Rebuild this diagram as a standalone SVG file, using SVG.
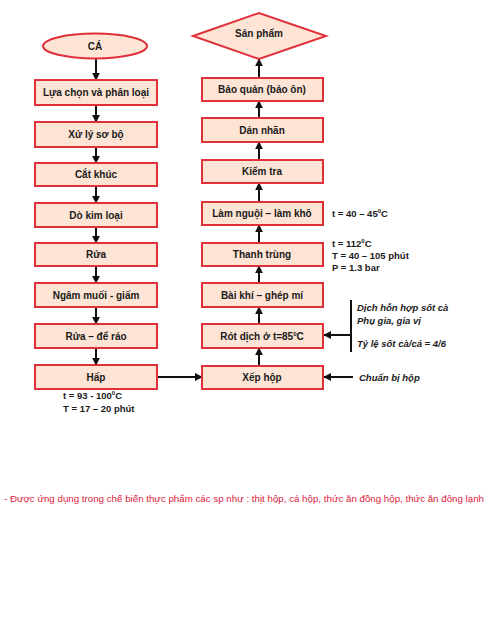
<svg xmlns="http://www.w3.org/2000/svg" width="495" height="640" viewBox="0 0 495 640">
<defs>
<style>
.box{fill:#fde4d4;stroke:#e0303a;stroke-width:2}
.lbl{font-family:"Liberation Sans",Arial,sans-serif;font-weight:bold;font-size:10px;fill:#1a1a1a;text-anchor:middle}
.note{font-family:"Liberation Sans",Arial,sans-serif;font-weight:bold;font-size:9.5px;fill:#1a1a1a}
.it{font-family:"Liberation Sans",Arial,sans-serif;font-weight:bold;font-style:italic;font-size:9.5px;fill:#1a1a1a}
.conn{stroke:#111;stroke-width:2;fill:none}
</style>
<marker id="ah" viewBox="0 0 10 10" refX="9" refY="5" markerWidth="4" markerHeight="4" orient="auto"><path d="M0,0 L10,5 L0,10 z" fill="#111"/></marker>
</defs>
<rect width="495" height="640" fill="#fff"/>

<g id="connectors">
<line class="conn" x1="96" y1="59" x2="96" y2="80" marker-end="url(#ah)"/>
<line class="conn" x1="96" y1="105" x2="96" y2="122" marker-end="url(#ah)"/>
<line class="conn" x1="96" y1="147" x2="96" y2="163" marker-end="url(#ah)"/>
<line class="conn" x1="96" y1="186" x2="96" y2="203" marker-end="url(#ah)"/>
<line class="conn" x1="96" y1="227" x2="96" y2="243" marker-end="url(#ah)"/>
<line class="conn" x1="96" y1="266" x2="96" y2="283" marker-end="url(#ah)"/>
<line class="conn" x1="96" y1="307" x2="96" y2="324" marker-end="url(#ah)"/>
<line class="conn" x1="96" y1="348" x2="96" y2="365" marker-end="url(#ah)"/>
<line class="conn" x1="157" y1="377" x2="202" y2="377" marker-end="url(#ah)"/>
<line class="conn" x1="259" y1="366" x2="259" y2="348" marker-end="url(#ah)"/>
<line class="conn" x1="259" y1="324" x2="259" y2="307" marker-end="url(#ah)"/>
<line class="conn" x1="259" y1="283" x2="259" y2="266" marker-end="url(#ah)"/>
<line class="conn" x1="259" y1="243" x2="259" y2="225" marker-end="url(#ah)"/>
<line class="conn" x1="259" y1="202" x2="259" y2="183" marker-end="url(#ah)"/>
<line class="conn" x1="259" y1="160" x2="259" y2="142" marker-end="url(#ah)"/>
<line class="conn" x1="259" y1="118" x2="259" y2="101" marker-end="url(#ah)"/>
<line class="conn" x1="259" y1="78" x2="259" y2="59" marker-end="url(#ah)"/>
<line class="conn" x1="351" y1="300" x2="351" y2="352"/>
<line class="conn" x1="351" y1="335" x2="324" y2="335" marker-end="url(#ah)"/>
<line class="conn" x1="353" y1="377" x2="324" y2="377" marker-end="url(#ah)"/>
</g>

<g id="ca"><ellipse class="box" cx="95" cy="46" rx="52" ry="12.5"/><text class="lbl" x="95" y="50">CÁ</text></g>
<g id="lua-chon"><rect class="box" x="35" y="80" width="122" height="25"/><text class="lbl" x="96" y="96">Lựa chọn và phân loại</text></g>
<g id="xu-ly"><rect class="box" x="35" y="122" width="122" height="25"/><text class="lbl" x="96" y="138">Xử lý sơ bộ</text></g>
<g id="cat-khuc"><rect class="box" x="35" y="163" width="122" height="23"/><text class="lbl" x="96" y="178">Cắt khúc</text></g>
<g id="do-kim-loai"><rect class="box" x="35" y="203" width="122" height="24"/><text class="lbl" x="96" y="219">Dò kim loại</text></g>
<g id="rua"><rect class="box" x="35" y="243" width="122" height="23"/><text class="lbl" x="96" y="258">Rửa</text></g>
<g id="ngam-muoi"><rect class="box" x="35" y="283" width="122" height="24"/><text class="lbl" x="96" y="299">Ngâm muối -  giấm</text></g>
<g id="rua-de-rao"><rect class="box" x="35" y="324" width="122" height="24"/><text class="lbl" x="96" y="340">Rửa – để ráo</text></g>
<g id="hap"><rect class="box" x="35" y="365" width="122" height="24"/><text class="lbl" x="96" y="381">Hấp</text></g>

<g id="san-pham"><polygon class="box" points="193,36 259,13 326,36 259,59"/><text class="lbl" x="259" y="37">Sản phẩm</text></g>
<g id="bao-quan"><rect class="box" x="202" y="78" width="121" height="23"/><text class="lbl" x="262" y="93">Bảo quản (bảo ôn)</text></g>
<g id="dan-nhan"><rect class="box" x="202" y="118" width="121" height="24"/><text class="lbl" x="262" y="134">Dán nhãn</text></g>
<g id="kiem-tra"><rect class="box" x="202" y="160" width="121" height="23"/><text class="lbl" x="262" y="175">Kiểm tra</text></g>
<g id="lam-nguoi"><rect class="box" x="202" y="202" width="121" height="23"/><text class="lbl" x="262" y="217">Làm nguội – làm khô</text></g>
<g id="thanh-trung"><rect class="box" x="202" y="243" width="121" height="23"/><text class="lbl" x="262" y="258">Thanh trùng</text></g>
<g id="bai-khi"><rect class="box" x="202" y="283" width="121" height="24"/><text class="lbl" x="262" y="299">Bài khí – ghép mí</text></g>
<g id="rot-dich"><rect class="box" x="202" y="324" width="121" height="24"/><text class="lbl" x="262" y="340">Rót dịch ở t=85<tspan dy="-4" font-size="6">0</tspan><tspan dy="4">C</tspan></text></g>
<g id="xep-hop"><rect class="box" x="202" y="366" width="121" height="23"/><text class="lbl" x="262" y="381">Xếp hộp</text></g>

<g id="notes">
<text class="note" x="332" y="217">t = 40 – 45<tspan dy="-4" font-size="6">0</tspan><tspan dy="4">C</tspan></text>
<text class="note" x="332" y="247">t = 112<tspan dy="-4" font-size="6">0</tspan><tspan dy="4">C</tspan></text>
<text class="note" x="332" y="259">T = 40 – 105 phút</text>
<text class="note" x="332" y="271">P = 1.3 bar</text>
<text class="it" x="357" y="311">Dịch hỗn hợp sốt cà</text>
<text class="it" x="357" y="324">Phụ gia, gia vị</text>
<text class="it" x="357" y="347">Tỷ lệ sốt cà/cá = 4/6</text>
<text class="it" x="359" y="381">Chuẩn bị hộp</text>
<text class="note" x="63" y="399">t = 93 - 100<tspan dy="-4" font-size="6">0</tspan><tspan dy="4">C</tspan></text>
<text class="note" x="63" y="412">T = 17 – 20 phút</text>
<text x="4" y="502" font-family="'Liberation Sans',Arial,sans-serif" font-size="9px" fill="#e0203a" textLength="480" lengthAdjust="spacingAndGlyphs">- Được ứng dụng trong chế biến thực phẩm các sp như : thịt hộp, cá hộp, thức ăn đồng hộp, thức ăn đông lạnh</text>
</g>
</svg>
